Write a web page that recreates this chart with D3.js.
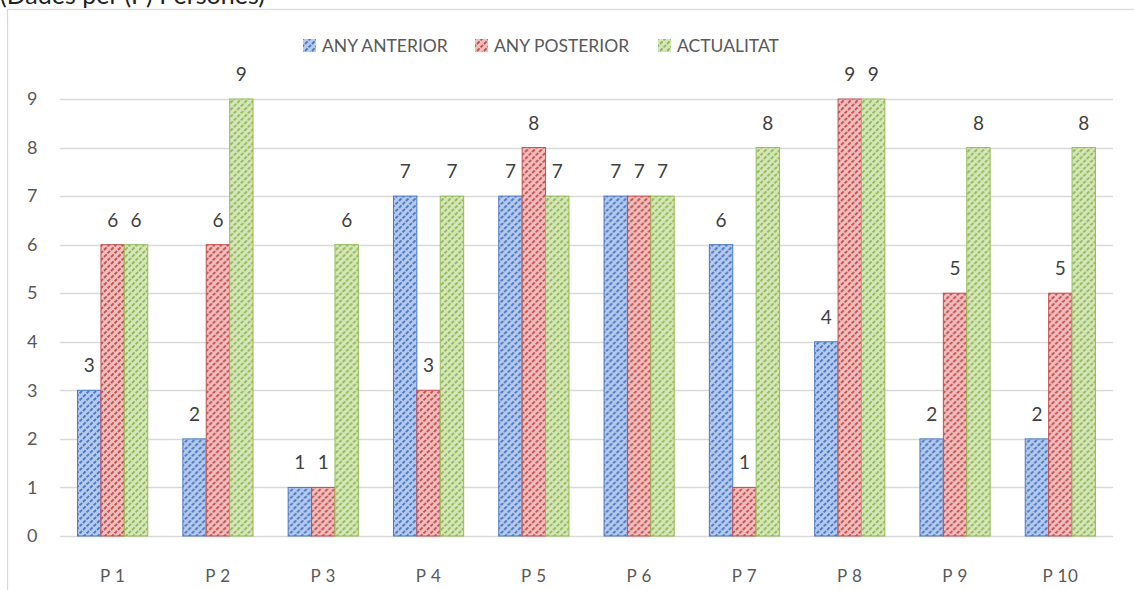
<!DOCTYPE html>
<html>
<head>
<meta charset="utf-8">
<script src="https://cdn.jsdelivr.net/npm/d3@7"></script>
<style>
  html, body { margin: 0; padding: 0; background: #fff; }
  svg { display: block; }
  text { font-family: Lato, "Open Sans", "Liberation Sans", sans-serif; }
</style>
</head>
<body>
<svg id="chart" width="1134" height="590"></svg>
<script>
// Chart data
const categories = ["P 1", "P 2", "P 3", "P 4", "P 5", "P 6", "P 7", "P 8", "P 9", "P 10"];
const seriesNames = ["ANY ANTERIOR", "ANY POSTERIOR", "ACTUALITAT"];
const anyAnterior  = [3, 2, 1, 7, 7, 7, 6, 4, 2, 2];
const anyPosterior = [6, 6, 1, 3, 8, 7, 1, 9, 5, 5];
const actualitat   = [6, 9, 6, 7, 7, 7, 8, 9, 8, 8];
const yTicks = [0, 1, 2, 3, 4, 5, 6, 7, 8, 9];
const titleText = "(Dades per (P) Persones)";

const seriesValues = [anyAnterior, anyPosterior, actualitat];
const seriesStyle = [
  { id: "pat-blue",  bg: "#b5caec", line: "#4a78c6", edge: "#4a78c6" },
  { id: "pat-red",   bg: "#f0bebd", line: "#c4504e", edge: "#c4504e" },
  { id: "pat-green", bg: "#d6e6bc", line: "#92ba52", edge: "#96bd56" }
];

const svg = d3.select("#chart");
const W = 1134, H = 590;

// Hatched fills (dashed upward diagonal)
const defs = svg.append("defs");
seriesStyle.forEach(s => {
  const p = defs.append("pattern")
    .attr("id", s.id)
    .attr("patternUnits", "userSpaceOnUse")
    .attr("width", 7).attr("height", 7);
  p.append("rect").attr("width", 7).attr("height", 7).attr("fill", s.bg);
  p.append("path")
    .attr("d", "M-1.5,8.5 L8.5,-1.5 M-1.5,1.5 L1.5,-1.5 M5.5,8.5 L8.5,5.5")
    .attr("stroke", s.line)
    .attr("stroke-width", 1.9)
    .attr("stroke-dasharray", "3.6 1.4")
    .attr("fill", "none");
});

// Title (partly above the visible area)
svg.append("text")
  .attr("x", 0).attr("y", 4)
  .attr("font-size", 25)
  .attr("fill", "#222")
  .text(titleText);

// Chart frame
svg.append("rect")
  .attr("x", 7.5).attr("y", 9.5)
  .attr("width", W + 20).attr("height", H + 20)
  .attr("fill", "none")
  .attr("stroke", "#d9d9d9")
  .attr("stroke-width", 1.3);

// Scales
const x = d3.scaleBand().domain(categories).range([60, 1113]).padding(0);
const barW = x.bandwidth() / 4.5;
const gap = x.bandwidth() - 3 * barW;
const xs = d3.scaleBand().domain(seriesNames).range([gap / 2, x.bandwidth() - gap / 2]).padding(0);
const y = d3.scaleLinear().domain([0, 9]).range([536, 99]);

// Gridlines
svg.append("g")
  .selectAll("line")
  .data(yTicks)
  .join("line")
  .attr("x1", 60).attr("x2", 1113)
  .attr("y1", d => Math.round(y(d)) + 0.5)
  .attr("y2", d => Math.round(y(d)) + 0.5)
  .attr("stroke", "#d9d9d9")
  .attr("stroke-width", 1.3);

// Y axis labels
const yAxis = d3.axisLeft(y).tickValues(yTicks).tickSize(0).tickPadding(0).tickFormat(d3.format("d"));
const yg = svg.append("g").attr("transform", "translate(37.5,0)").call(yAxis);
yg.select(".domain").remove();
yg.selectAll("text")
  .attr("font-size", 18)
  .attr("font-family", "Lato, 'Open Sans', sans-serif")
  .attr("fill", "#595959");

// X axis labels
const xAxis = d3.axisBottom(x).tickSize(0).tickPadding(0);
const xg = svg.append("g").attr("transform", "translate(0,570)").call(xAxis);
xg.select(".domain").remove();
xg.selectAll("text")
  .attr("font-size", 17)
  .attr("font-family", "Lato, 'Open Sans', sans-serif")
  .attr("fill", "#595959")
  .attr("dy", "0.71em")
  .style("letter-spacing", "0.5px");

// Bars
const groups = svg.append("g")
  .selectAll("g")
  .data(categories)
  .join("g")
  .attr("transform", d => `translate(${x(d)},0)`);

const cells = groups.selectAll("g.cell")
  .data((c, i) => seriesNames.map((s, k) => ({ s, k, v: seriesValues[k][i] })))
  .join("g").attr("class", "cell");

cells.append("rect")
  .attr("x", d => xs(d.s))
  .attr("width", xs.bandwidth())
  .attr("y", d => y(d.v))
  .attr("height", d => y(0) - y(d.v))
  .attr("fill", d => `url(#${seriesStyle[d.k].id})`)
  .attr("stroke", d => seriesStyle[d.k].edge)
  .attr("stroke-width", 1);

// Value labels
cells.append("text")
  .attr("x", d => xs(d.s) + xs.bandwidth() / 2)
  .attr("y", d => y(d.v) - 18)
  .attr("text-anchor", "middle")
  .attr("font-size", 19)
  .attr("fill", "#404040")
  .text(d => d.v);

// Legend
const legendX = [303, 475, 658];
const legend = svg.append("g")
  .selectAll("g")
  .data(seriesNames)
  .join("g")
  .attr("transform", (d, i) => `translate(${legendX[i]},39)`);
legend.append("rect")
  .attr("width", 13).attr("height", 13)
  .attr("fill", (d, i) => `url(#${seriesStyle[i].id})`);
legend.append("text")
  .attr("x", 19).attr("y", 13)
  .attr("font-size", 17.5)
  .attr("fill", "#595959")
  .text(d => d);
</script>
</body>
</html>
